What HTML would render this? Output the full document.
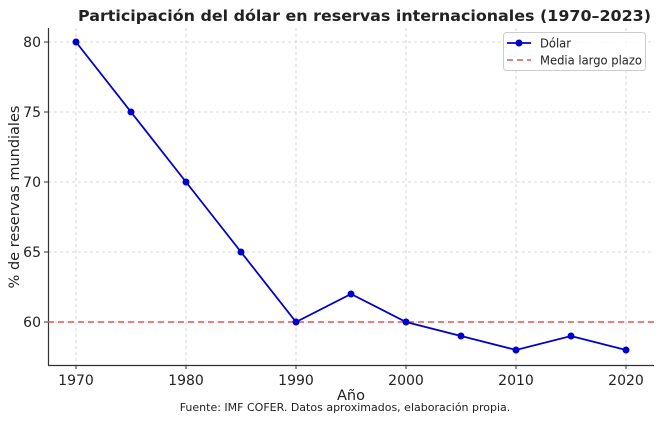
<!DOCTYPE html>
<html><head><meta charset="utf-8"><style>
body{margin:0;background:#fff;}
svg text{font-family:"DejaVu Sans","Liberation Sans",sans-serif;fill:#222;}
</style></head><body>
<svg width="662" height="421" viewBox="0 0 662 421" xmlns="http://www.w3.org/2000/svg">
<rect width="662" height="421" fill="#fff"/>
<text x="78" y="21" font-size="15.5" font-weight="bold" fill="#333" textLength="573" lengthAdjust="spacingAndGlyphs">Participación del dólar en reservas internacionales (1970–2023)</text>
<g stroke="#ccc" stroke-width="0.8" stroke-dasharray="3,3">
<line x1="76" y1="28" x2="76" y2="365"/><line x1="186" y1="28" x2="186" y2="365"/><line x1="296" y1="28" x2="296" y2="365"/><line x1="406" y1="28" x2="406" y2="365"/><line x1="516" y1="28" x2="516" y2="365"/><line x1="626" y1="28" x2="626" y2="365"/>
<line x1="48" y1="42" x2="654" y2="42"/><line x1="48" y1="112" x2="654" y2="112"/><line x1="48" y1="182" x2="654" y2="182"/><line x1="48" y1="252" x2="654" y2="252"/><line x1="48" y1="322" x2="654" y2="322"/>
</g>
<line x1="48.5" y1="28" x2="48.5" y2="365.5" stroke="#333" stroke-width="1.2"/>
<line x1="48" y1="365.5" x2="654" y2="365.5" stroke="#333" stroke-width="1.2"/>
<g stroke="#333"><line x1="76" y1="365" x2="76" y2="369"/><line x1="186" y1="365" x2="186" y2="369"/><line x1="296" y1="365" x2="296" y2="369"/><line x1="406" y1="365" x2="406" y2="369"/><line x1="516" y1="365" x2="516" y2="369"/><line x1="626" y1="365" x2="626" y2="369"/>
<line x1="44" y1="42" x2="48" y2="42"/><line x1="44" y1="112" x2="48" y2="112"/><line x1="44" y1="182" x2="48" y2="182"/><line x1="44" y1="252" x2="48" y2="252"/><line x1="44" y1="322" x2="48" y2="322"/></g>
<g font-size="14" text-anchor="middle"><text x="76" y="385">1970</text><text x="186" y="385">1980</text><text x="296" y="385">1990</text><text x="406" y="385">2000</text><text x="516" y="385">2010</text><text x="626" y="385">2020</text></g>
<g font-size="14" text-anchor="end"><text x="41" y="47">80</text><text x="41" y="117">75</text><text x="41" y="187">70</text><text x="41" y="257">65</text><text x="41" y="327">60</text></g>
<text x="351" y="400" font-size="14.5" text-anchor="middle">Año</text>
<text transform="translate(19,197) rotate(-90)" font-size="14.5" text-anchor="middle">% de reservas mundiales</text>
<line x1="48" y1="322" x2="654" y2="322" stroke="#e05555" stroke-width="1.6" stroke-dasharray="6,4"/>
<polyline fill="none" stroke="#0000cc" stroke-width="1.8" points="76,42 131,112 186,182 241,252 296,322 351,294 406,322 461,336 516,350 571,336 626,350"/>
<g fill="#0000cc"><circle cx="76" cy="42" r="3.5"/><circle cx="131" cy="112" r="3.5"/><circle cx="186" cy="182" r="3.5"/><circle cx="241" cy="252" r="3.5"/><circle cx="296" cy="322" r="3.5"/><circle cx="351" cy="294" r="3.5"/><circle cx="406" cy="322" r="3.5"/><circle cx="461" cy="336" r="3.5"/><circle cx="516" cy="350" r="3.5"/><circle cx="571" cy="336" r="3.5"/><circle cx="626" cy="350" r="3.5"/></g>
<rect x="503.5" y="32.5" width="142" height="38" rx="3" fill="#fff" fill-opacity="0.85" stroke="#ccc"/>
<line x1="507" y1="43" x2="531" y2="43" stroke="#0000cc" stroke-width="1.8"/><circle cx="519" cy="43" r="3.5" fill="#0000cc"/>
<text x="540" y="47.5" font-size="12" fill="#333" textLength="31" lengthAdjust="spacingAndGlyphs">Dólar</text>
<line x1="507" y1="60" x2="531" y2="60" stroke="#e05555" stroke-width="1.6" stroke-dasharray="6,4"/>
<text x="540" y="64.5" font-size="12" fill="#333" textLength="102" lengthAdjust="spacingAndGlyphs">Media largo plazo</text>
<text x="345" y="411" font-size="11" text-anchor="middle" fill="#333">Fuente: IMF COFER. Datos aproximados, elaboración propia.</text>
</svg>
</body></html>
